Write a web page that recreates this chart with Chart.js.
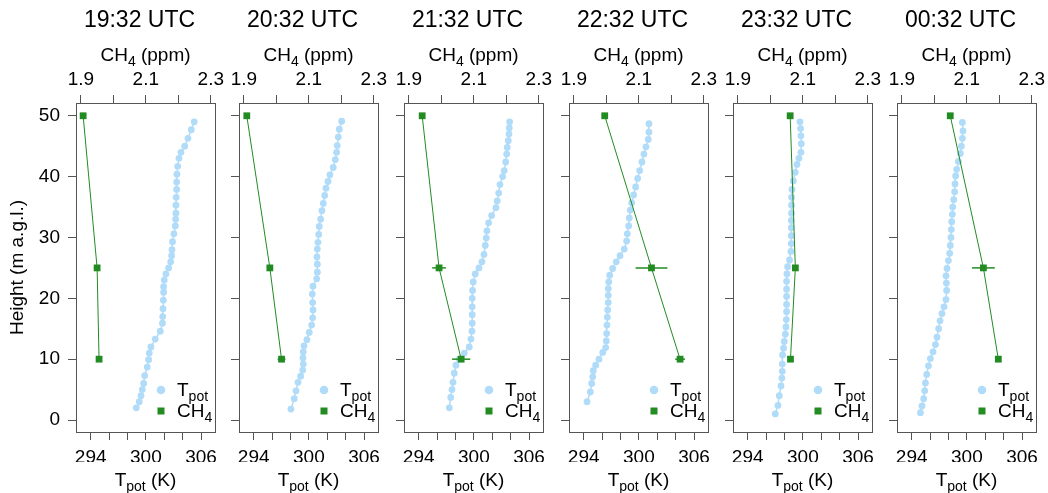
<!DOCTYPE html>
<html>
<head>
<meta charset="utf-8">
<script src="https://cdn.jsdelivr.net/npm/chart.js@4.4.0/dist/chart.umd.min.js"></script>
<style>
  body { margin: 0; background: #fff; }
  #wrap { position: relative; width: 1048px; height: 493px; overflow: hidden; }
  .panel { position: absolute; top: 0; }
</style>
</head>
<body>
<div id="wrap"></div>
<script>
// potential temperature profiles (height in m, Tpot in K)
const z1932 = [49.0, 47.7, 46.3, 45.0, 44.0, 43.0, 41.7, 40.4, 39.1, 37.9, 36.6, 35.3, 34.0, 33.0, 31.9, 30.6, 29.3, 28.0, 27.0, 26.0, 25.0, 24.0, 23.0, 21.9, 21.0, 19.7, 18.3, 17.0, 15.9, 14.6, 13.3, 12.0, 11.0, 9.9, 8.7, 7.3, 6.0, 5.0, 4.0, 3.0, 2.0];
const t1932 = [305.26, 304.94, 304.58, 304.22, 303.82, 303.6, 303.46, 303.38, 303.35, 303.35, 303.3, 303.27, 303.27, 303.24, 303.2, 303.05, 302.9, 302.84, 302.8, 302.7, 302.48, 302.18, 302.0, 301.93, 301.93, 301.9, 301.86, 301.83, 301.8, 301.57, 301.02, 300.55, 300.37, 300.3, 300.15, 299.87, 299.76, 299.61, 299.47, 299.28, 298.96];

const z2032 = [49.1, 47.8, 46.5, 45.1, 44.0, 42.8, 41.5, 40.3, 39.2, 38.1, 36.9, 35.6, 34.4, 33.0, 31.8, 30.5, 29.2, 28.1, 26.8, 25.6, 24.3, 23.2, 22.0, 20.7, 19.3, 18.1, 16.8, 15.6, 14.4, 13.2, 12.2, 11.2, 10.2, 9.2, 8.2, 7.2, 6.2, 4.8, 3.5, 1.8];
const t2032 = [303.57, 303.31, 303.2, 303.09, 303.02, 302.87, 302.65, 302.29, 302.08, 301.86, 301.72, 301.57, 301.42, 301.28, 301.13, 301.07, 300.99, 300.92, 300.88, 300.92, 300.92, 300.85, 300.45, 300.37, 300.41, 300.45, 300.41, 300.3, 300.04, 299.79, 299.47, 299.39, 299.36, 299.39, 299.33, 299.11, 298.82, 298.6, 298.41, 298.05];

const z2132 = [49.0, 48.0, 47.0, 45.9, 44.8, 43.7, 42.4, 41.0, 40.0, 38.7, 37.3, 36.0, 34.9, 33.6, 32.4, 31.1, 29.9, 28.7, 27.2, 26.0, 25.0, 24.0, 22.7, 21.3, 20.0, 18.6, 17.3, 15.9, 14.6, 13.3, 12.0, 11.0, 10.0, 9.0, 7.7, 6.2, 5.0, 3.7, 2.0];
const t2132 = [303.89, 303.85, 303.82, 303.74, 303.63, 303.57, 303.46, 303.3, 303.13, 302.84, 302.7, 302.54, 302.4, 301.93, 301.6, 301.42, 301.35, 301.24, 301.1, 300.88, 300.55, 300.15, 299.93, 299.86, 299.82, 299.82, 299.82, 299.82, 299.79, 299.68, 299.5, 298.96, 298.41, 298.05, 297.87, 297.73, 297.62, 297.48, 297.33];

const z2232 = [48.7, 47.3, 46.1, 44.9, 43.7, 42.4, 41.0, 39.7, 38.3, 37.0, 35.7, 34.5, 33.2, 31.9, 30.6, 29.4, 28.1, 27.0, 26.0, 24.9, 23.8, 22.7, 21.6, 20.5, 19.3, 18.1, 16.9, 15.6, 14.2, 13.0, 11.9, 11.1, 10.0, 9.0, 8.1, 7.1, 6.0, 4.6, 3.0];
const t2232 = [301.1, 301.1, 301.02, 300.77, 300.55, 300.34, 300.09, 299.87, 299.65, 299.43, 299.22, 299.07, 298.96, 298.89, 298.74, 298.67, 298.41, 297.95, 297.54, 297.15, 296.83, 296.72, 296.67, 296.67, 296.67, 296.61, 296.57, 296.53, 296.5, 296.46, 296.39, 296.07, 295.66, 295.3, 295.04, 294.98, 294.87, 294.72, 294.36];

const z2332 = [49.0, 47.9, 46.7, 45.4, 44.0, 43.0, 42.0, 40.7, 39.3, 37.9, 36.6, 35.3, 34.0, 32.8, 31.6, 30.3, 29.0, 27.7, 26.3, 25.2, 24.0, 22.8, 21.5, 20.3, 19.0, 17.8, 16.5, 15.3, 14.1, 12.9, 11.8, 10.7, 9.2, 8.0, 6.9, 5.6, 4.0, 2.4, 1.0];
const t2332 = [299.68, 299.75, 299.79, 299.83, 299.79, 299.57, 299.36, 299.17, 298.96, 298.82, 298.77, 298.77, 298.77, 298.74, 298.74, 298.74, 298.74, 298.7, 298.55, 298.34, 298.27, 298.23, 298.23, 298.23, 298.23, 298.23, 298.2, 298.16, 298.09, 297.98, 297.9, 297.79, 297.76, 297.76, 297.72, 297.62, 297.43, 297.29, 297.0];

const z0032 = [48.9, 47.5, 46.3, 45.0, 43.8, 42.5, 41.2, 40.1, 38.8, 37.5, 36.2, 35.0, 33.8, 32.6, 31.3, 30.0, 28.7, 27.4, 26.2, 24.9, 23.7, 22.5, 21.3, 19.8, 18.6, 17.5, 16.3, 15.0, 13.6, 12.4, 11.2, 10.1, 8.9, 7.5, 6.1, 4.8, 3.5, 2.3, 1.2];
const t0032 = [299.51, 299.58, 299.51, 299.4, 299.29, 299.08, 298.89, 298.78, 298.71, 298.67, 298.57, 298.46, 298.42, 298.35, 298.31, 298.27, 298.2, 298.13, 297.99, 297.84, 297.73, 297.77, 297.8, 297.73, 297.51, 297.29, 297.08, 296.93, 296.75, 296.58, 296.32, 296.03, 295.82, 295.63, 295.49, 295.41, 295.3, 295.12, 294.95];

// CH4 at the three inlet heights (ppm) and their spread
const ch4Heights = [50, 25, 10];
const ch4_1932 = [1.907, 1.950, 1.956];
const err1932 = [0.002, 0.003, 0.003];
const ch4_2032 = [1.909, 1.980, 2.016];
const err2032 = [0.002, 0.004, 0.012];
const ch4_2132 = [1.941, 1.993, 2.061];
const err2132 = [0.003, 0.021, 0.028];
const ch4_2232 = [1.995, 2.139, 2.227];
const err2232 = [0.003, 0.049, 0.015];
const ch4_2332 = [2.061, 2.077, 2.062];
const err2332 = [0.002, 0.004, 0.003];
const ch4_0032 = [2.049, 2.151, 2.197];
const err0032 = [0.003, 0.035, 0.004];

const panelTitles = ['19:32 UTC', '20:32 UTC', '21:32 UTC', '22:32 UTC', '23:32 UTC', '00:32 UTC'];

const panels = [
  { z: z1932, t: t1932, ch4: ch4_1932, err: err1932 },
  { z: z2032, t: t2032, ch4: ch4_2032, err: err2032 },
  { z: z2132, t: t2132, ch4: ch4_2132, err: err2132 },
  { z: z2232, t: t2232, ch4: ch4_2232, err: err2232 },
  { z: z2332, t: t2332, ch4: ch4_2332, err: err2332 },
  { z: z0032, t: t0032, ch4: ch4_0032, err: err0032 }
];

const FAMILY = '"Liberation Sans", Arial, sans-serif';
const MAIN = '19px ' + FAMILY;
const SUB = '14px ' + FAMILY;
const TPOT_COLOR = '#b1dcf9';
const CH4_COLOR = '#228b22';
const AXIS_COLOR = '#555';

const boxLefts = [76, 239, 404, 569, 733, 897];
const boxWidth = 139;

// draw text made of [string, isSubscript] pieces
function subText(ctx, pieces, x, y, align) {
  const widths = pieces.map(([s, sub]) => {
    ctx.font = sub ? SUB : MAIN;
    return ctx.measureText(s).width;
  });
  const total = widths.reduce((a, b) => a + b, 0);
  let cx = align === 'center' ? x - total / 2 : x;
  ctx.textAlign = 'left';
  ctx.textBaseline = 'alphabetic';
  pieces.forEach(([s, sub], i) => {
    ctx.font = sub ? SUB : MAIN;
    ctx.fillText(s, cx, sub ? y + 5 : y);
    cx += widths[i];
  });
}

const wrap = document.getElementById('wrap');

panels.forEach((p, idx) => {
  const leftW = idx === 0 ? 76 : 30;
  const div = document.createElement('div');
  div.className = 'panel';
  div.style.left = (boxLefts[idx] - leftW) + 'px';
  const canvas = document.createElement('canvas');
  canvas.width = leftW + boxWidth + 20;
  canvas.height = 493;
  canvas.style.width = canvas.width + 'px';
  canvas.style.height = '493px';
  div.appendChild(canvas);
  wrap.appendChild(div);

  const decor = {
    id: 'decor' + idx,
    afterDatasetsDraw(chart) {
      const ctx = chart.ctx;
      const xs = chart.scales.xC, ys = chart.scales.y;
      ctx.save();
      ctx.strokeStyle = CH4_COLOR;
      ctx.lineWidth = 1.5;
      p.ch4.forEach((v, i) => {
        const y = ys.getPixelForValue(ch4Heights[i]);
        ctx.beginPath();
        ctx.moveTo(xs.getPixelForValue(v - p.err[i]), y);
        ctx.lineTo(xs.getPixelForValue(v + p.err[i]), y);
        ctx.stroke();
      });
      ctx.restore();
    },
    afterDraw(chart) {
      const ctx = chart.ctx;
      const a = chart.chartArea;
      ctx.save();
      // frame
      ctx.strokeStyle = AXIS_COLOR;
      ctx.lineWidth = 1;
      ctx.strokeRect(Math.round(a.left) + 0.5, Math.round(a.top) + 0.5,
        Math.round(a.right - a.left), Math.round(a.bottom - a.top));
      ctx.fillStyle = '#000';
      const cx = (a.left + a.right) / 2;
      // panel title
      ctx.font = '23px ' + FAMILY;
      ctx.textAlign = 'center';
      ctx.textBaseline = 'alphabetic';
      ctx.fillText(panelTitles[idx], cx - 6, 27);
      // axis titles
      subText(ctx, [['CH', false], ['4', true], [' (ppm)', false]], cx, 61, 'center');
      subText(ctx, [['T', false], ['pot', true], [' (K)', false]], cx, 486, 'center');
      if (idx === 0) {
        ctx.save();
        ctx.translate(18, (a.top + a.bottom) / 2);
        ctx.rotate(-Math.PI / 2);
        ctx.font = MAIN;
        ctx.textAlign = 'center';
        ctx.textBaseline = 'middle';
        ctx.fillText('Height (m a.g.l.)', 0, 0);
        ctx.restore();
      }
      // legend
      const mx = a.right - 54, tx = a.right - 38;
      const r1 = a.bottom - 42, r2 = a.bottom - 21;
      ctx.fillStyle = TPOT_COLOR;
      ctx.beginPath();
      ctx.arc(mx, r1, 4.3, 0, Math.PI * 2);
      ctx.fill();
      ctx.fillStyle = CH4_COLOR;
      ctx.fillRect(mx - 3.5, r2 - 3.5, 7, 7);
      ctx.fillStyle = '#000';
      subText(ctx, [['T', false], ['pot', true]], tx, r1 + 6, 'left');
      subText(ctx, [['CH', false], ['4', true]], tx, r2 + 6, 'left');
      ctx.restore();
    }
  };

  const tickFont = { family: FAMILY, size: 19 };
  const grid = { display: true, drawOnChartArea: false, drawTicks: true, tickLength: 8, color: AXIS_COLOR, lineWidth: 1 };

  new Chart(canvas, {
    type: 'scatter',
    data: {
      datasets: [
        {
          label: 'CH4',
          data: p.ch4.map((v, i) => ({ x: v, y: ch4Heights[i] })),
          xAxisID: 'xC',
          yAxisID: 'y',
          showLine: true,
          borderColor: CH4_COLOR,
          borderWidth: 1,
          pointStyle: 'rect',
          pointRadius: 4.8,
          pointBackgroundColor: CH4_COLOR,
          pointBorderWidth: 0,
          order: 0
        },
        {
          label: 'Tpot',
          data: p.t.map((v, i) => ({ x: v, y: p.z[i] })),
          xAxisID: 'xT',
          yAxisID: 'y',
          showLine: true,
          borderColor: TPOT_COLOR,
          borderWidth: 1.5,
          pointRadius: 3.4,
          pointBackgroundColor: TPOT_COLOR,
          pointBorderWidth: 0,
          order: 1
        }
      ]
    },
    options: {
      responsive: false,
      animation: false,
      layout: { padding: { top: 67, bottom: 31, left: 0, right: 20 } },
      plugins: { legend: { display: false }, tooltip: { enabled: false } },
      scales: {
        y: {
          type: 'linear',
          min: -1.97,
          max: 52.1,
          grid: grid,
          border: { display: false },
          ticks: {
            stepSize: 10,
            includeBounds: false,
            font: tickFont,
            color: '#000',
            padding: 8,
            callback: (v) => idx === 0 ? String(v) : ''
          },
          afterFit: (s) => { s.width = leftW; }
        },
        xT: {
          type: 'linear',
          position: 'bottom',
          min: 292.4,
          max: 307.52,
          grid: grid,
          border: { display: false },
          ticks: {
            stepSize: 2,
            includeBounds: false,
            autoSkip: false,
            maxRotation: 0,
            font: tickFont,
            color: '#000',
            padding: 6,
            callback: (v) => (Math.round(v) % 6 === 0 ? String(Math.round(v)) : '')
          },
          afterFit: (s) => { s.height = 30; }
        },
        xC: {
          type: 'linear',
          position: 'top',
          min: 1.885,
          max: 2.313,
          grid: grid,
          border: { display: false },
          ticks: {
            stepSize: 0.1,
            includeBounds: false,
            autoSkip: false,
            maxRotation: 0,
            font: tickFont,
            color: '#000',
            padding: 4,
            callback: (v) => (Math.round(v * 10) % 2 === 1 ? v.toFixed(1) : '')
          },
          afterFit: (s) => { s.height = 36; }
        }
      }
    },
    plugins: [decor]
  });
});
</script>
</body>
</html>
